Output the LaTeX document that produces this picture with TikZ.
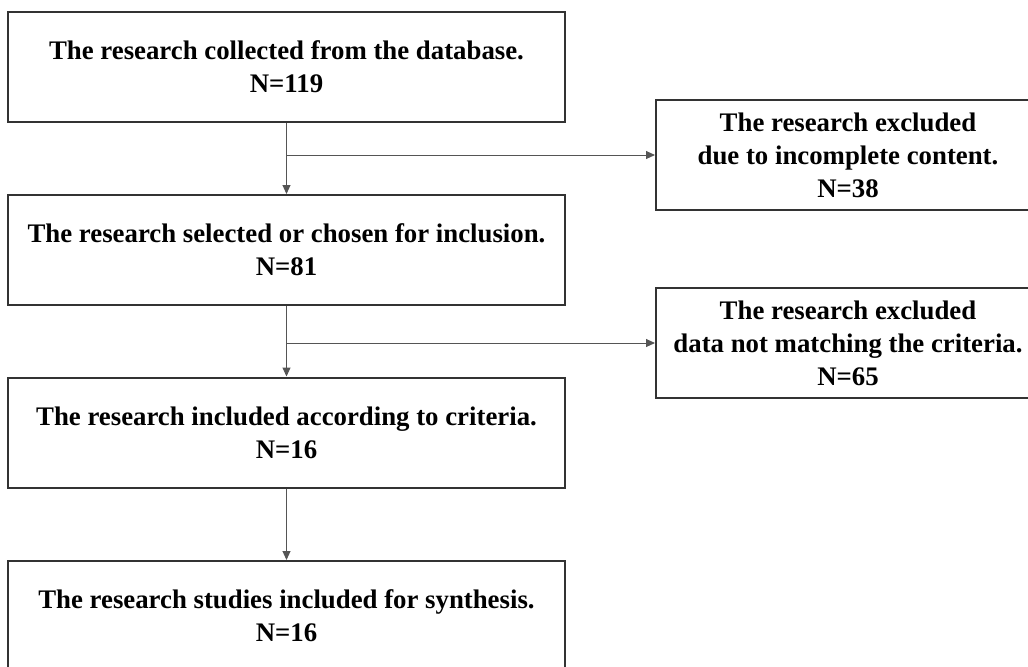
\documentclass[tikz,border=0pt]{standalone}
\usepackage{fontspec}
\setmainfont{Liberation Serif}
\usetikzlibrary{arrows.meta}
\tikzset{>={Triangle[length=4.5pt,width=4pt]}}
\definecolor{boxline}{HTML}{333333}
\definecolor{arrowline}{HTML}{555555}

\begin{document}
\begin{tikzpicture}[x=0.5pt,y=-0.5pt,
    stage/.style={draw=boxline, line width=1pt, minimum width=278.5pt, minimum height=55pt,
      inner sep=0pt, align=center, font=\bfseries\fontsize{13.4}{16.5}\selectfont},
    excluded/.style={stage, minimum width=192pt},
    flow/.style={->, draw=arrowline, line width=0.5pt}]
      \clip (0, 0) rectangle (1028, 666);
      % nodes
      \node[stage] (collected) at (286.5, 67) {The research collected from the database.\\N=119};
      \node[stage] (selected) at (286.5, 250) {The research selected or chosen for inclusion.\\N=81};
      \node[stage] (included) at (286.5, 432.5) {The research included according to criteria.\\N=16};
      \node[stage] (synthesis) at (286.5, 616) {The research studies included for synthesis.\\N=16};
      \node[excluded] (incomplete) at (848, 155) {The research excluded\\due to incomplete content.\\N=38};
      \node[excluded] (mismatch) at (848, 343) {The research excluded\\data not matching the criteria.\\N=65};
      % lines
      \coordinate (split1) at (collected.south |- incomplete.west);
      \coordinate (split2) at (selected.south |- mismatch.west);
      \draw[flow] (collected) -- (selected);
      \draw[flow] (split1) -- (incomplete);
      \draw[flow] (selected) -- (included);
      \draw[flow] (split2) -- (mismatch);
      \draw[flow] (included) -- (synthesis);
    \end{tikzpicture}
\end{document}
